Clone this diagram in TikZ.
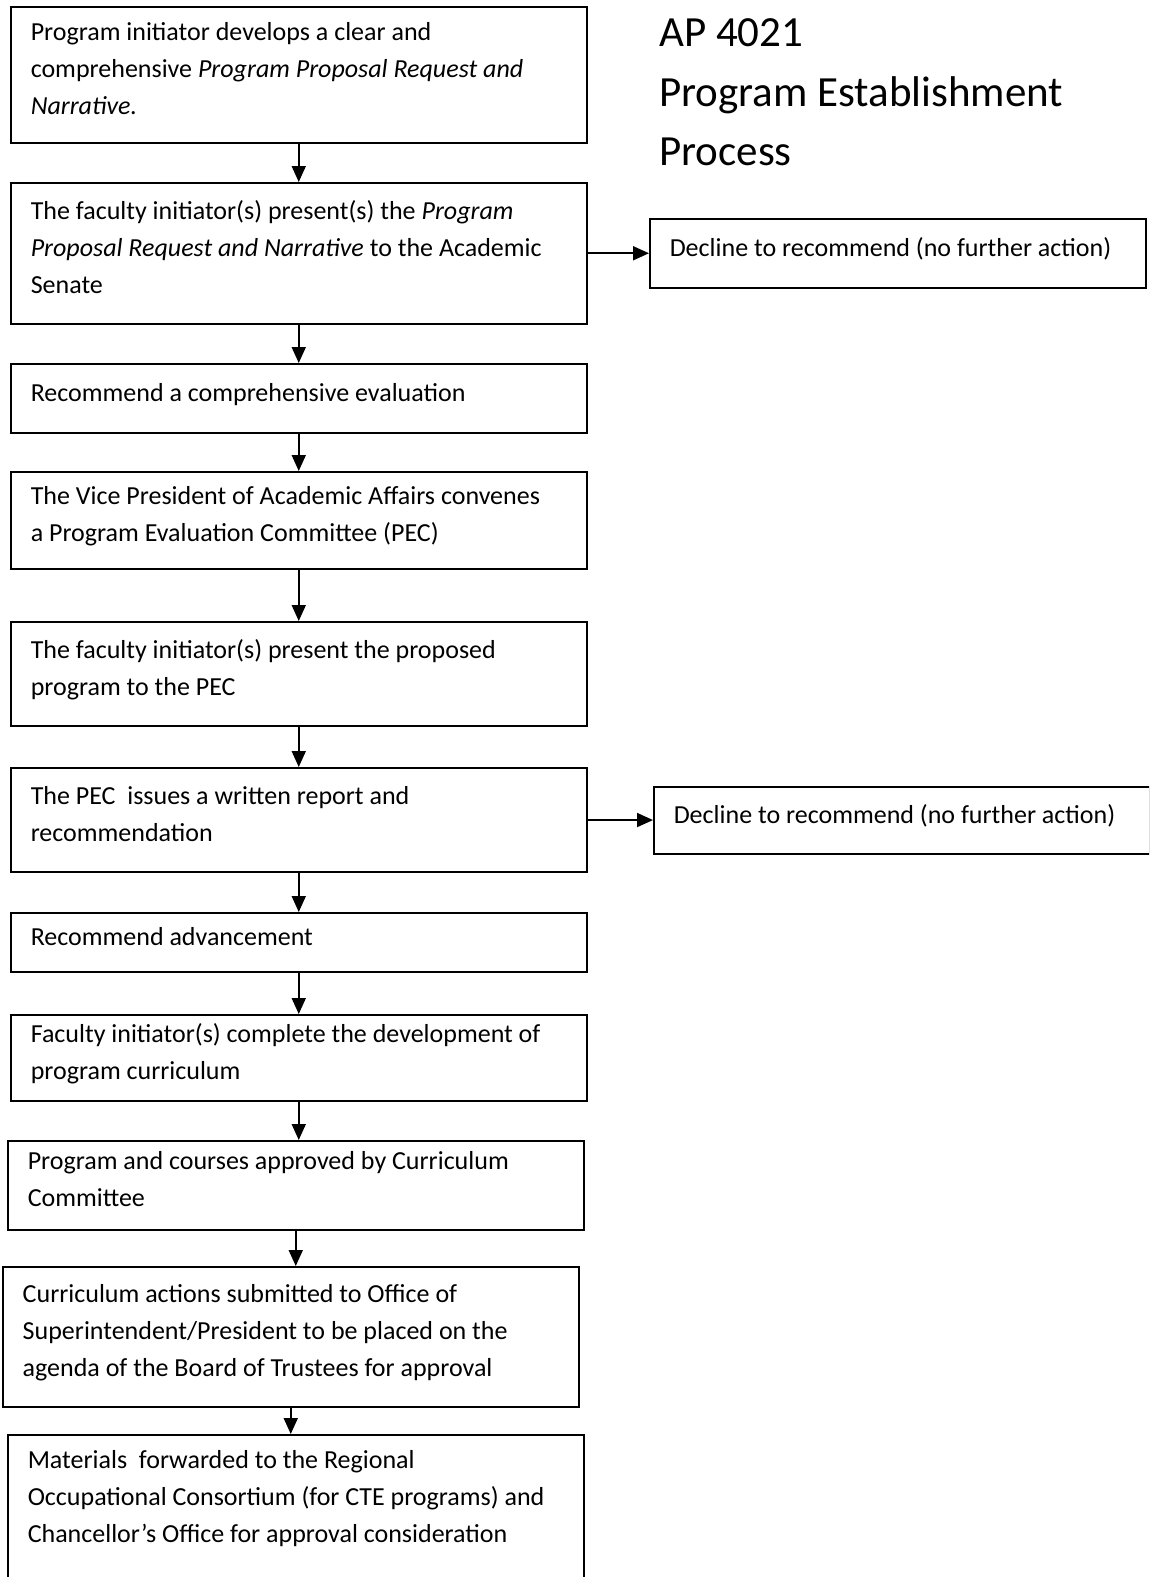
\documentclass[tikz,border=0pt]{standalone}
\usepackage{fontspec}
\setmainfont{Carlito}
\usetikzlibrary{arrows.meta}
\tikzstyle{block}=[draw,line width=1.5pt,rectangle,anchor=north west,inner xsep=20pt,inner ysep=0pt,text width=536pt,align=left,font=\fontsize{26}{37}\selectfont,execute at begin node={\spaceskip=0pt\xspaceskip=0pt},execute at end node={\rule[-12pt]{0pt}{12pt}}]
\tikzstyle{side block}=[block,inner xsep=20pt,text width=456pt]
\tikzstyle{edge}=[draw,line width=1.8pt,-{Triangle[width=14pt,length=16pt]}]
\tikzstyle{title}=[anchor=north west,inner sep=0pt,align=left,font=\fontsize{43}{59.5}\selectfont]

\begin{document}
\begin{tikzpicture}[x=1pt,y=-1pt]
    \useasboundingbox (0,0) rectangle (1149,1577);
    \clip (0,0) rectangle (1149,1577);

    % title in the upper right
    \node[title] (head) at (659,18.5) {AP 4021\\Program Establishment\\Process};

    % the main column of steps
    \node[block,minimum height=136pt] (b1) at (10,6) {Program initiator develops a clear and\\comprehensive \textit{Program Proposal Request and}\\\textit{Narrative.}};
    \node[block,minimum height=141pt] (b2) at (10,182) {The faculty initiator(s) present(s) the \textit{Program}\\\textit{Proposal Request and Narrative} to the Academic\\Senate};
    \node[block,minimum height=69pt] (b3) at (10,363) {Recommend a comprehensive evaluation};
    \node[block,minimum height=97pt] (b4) at (10,471) {The Vice President of Academic Affairs convenes\\a Program Evaluation Committee (PEC)};
    \node[block,minimum height=104pt] (b5) at (10,621) {The faculty initiator(s) present the proposed\\program to the PEC};
    \node[block,minimum height=104pt] (b6) at (10,767) {The PEC\ \ issues a written report and\\recommendation};
    \node[block,minimum height=59pt] (b7) at (10,912) {Recommend advancement};
    \node[block,minimum height=86pt] (b8) at (10,1014) {Faculty initiator(s) complete the development of\\program curriculum};
    \node[block,minimum height=89pt] (b9) at (7,1140) {Program and courses approved by Curriculum\\Committee};
    \node[block,minimum height=140pt] (b10) at (2,1266) {Curriculum actions submitted to Office of\\Superintendent/President to be placed on the\\agenda of the Board of Trustees for approval};
    \node[block,minimum height=172pt] (b11) at (7,1434) {Materials\ \ forwarded to the Regional\\Occupational Consortium (for CTE programs) and\\Chancellor’s Office for approval consideration\\\mbox{}};

    % side exits
    \node[side block,minimum height=69pt] (d1) at (649,218) {Decline to recommend (no further action)};
    \node[side block,minimum height=67pt] (d2) at (653,786) {Decline to recommend (no further action)};

    % connect the steps
    \foreach \source/\dest in {b1/b2, b2/b3, b3/b4, b4/b5, b5/b6, b6/b7, b7/b8, b8/b9, b9/b10, b10/b11}
        \path[edge] (\source.south) -- (\source.south |- \dest.north);
    \foreach \source/\dest in {b2/d1, b6/d2}
        \path[edge] (\source) -- (\dest);
\end{tikzpicture}
\end{document}
